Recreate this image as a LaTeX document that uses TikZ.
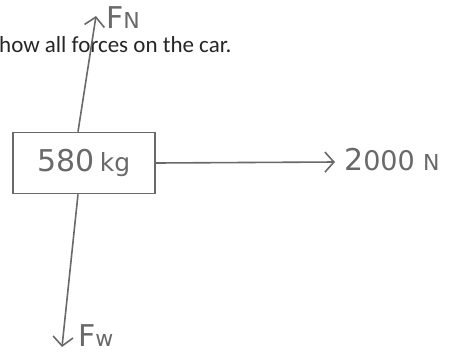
\documentclass[tikz,border=0pt]{standalone}
\usepackage{fontspec}
\setmainfont{Carlito}
\newfontfamily\handfont{DejaVu Sans}
\usetikzlibrary{arrows.meta}
\definecolor{pencil}{RGB}{105,105,105}
\tikzset{force/.style={draw=pencil, line width=1.6pt, -{Straight Barb[length=9pt,width=20pt]}},
         hand/.style={text=pencil, inner sep=0, font=\handfont\fontsize{30}{32}\selectfont}}

\begin{document}
\begin{tikzpicture}[x=1pt,y=-1pt]
        \useasboundingbox (0,0) rectangle (465,354);
        \node[anchor=base west, inner sep=0, text=black!85, font=\fontsize{23}{27}\selectfont] (task) at (-1,52) {how all forces on the car.};

        % the car as a box
        \node[draw=pencil, line width=1.6pt, minimum width=142pt, minimum height=61pt, inner sep=0, hand] (car) at (84,163) {580\,{\fontsize{25}{27}\selectfont kg}};

        % ends of the force arrows
        \coordinate (nTip) at (96,16); \coordinate (wTip) at (62,347); \coordinate (tTip) at (335,162);
        \draw[force] ([xshift=-6pt]car.north) -- (nTip); \draw[force] ([xshift=-6pt]car.south) -- (wTip); \draw[force] (car.east) -- (tTip);

        \node[hand, anchor=west] (fn) at (106,18) {F{\fontsize{22}{24}\selectfont N}};
        \node[hand, anchor=west] (fw) at (78,336) {F{\fontsize{22}{24}\selectfont w}};
        \node[hand, anchor=west] (thrust) at (344,160) {2{\fontsize{27}{29}\selectfont 000}\;{\fontsize{22}{24}\selectfont N}};
    \end{tikzpicture}
\end{document}
